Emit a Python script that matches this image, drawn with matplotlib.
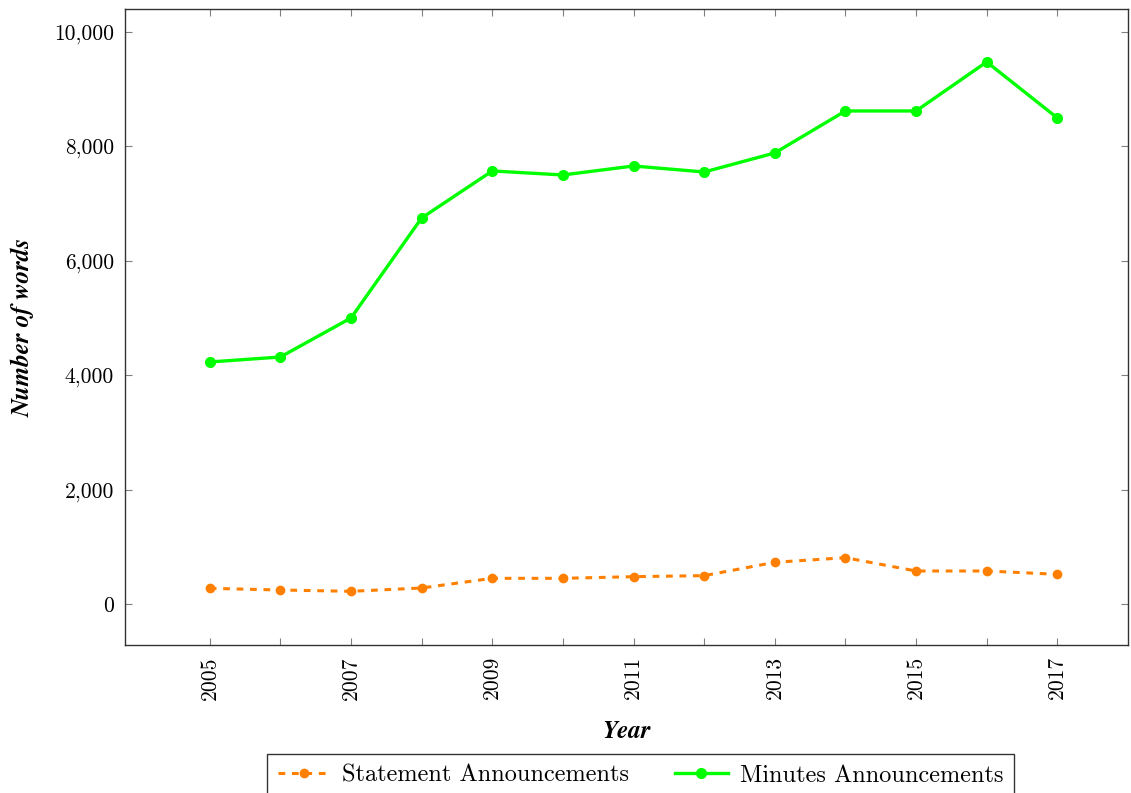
import matplotlib
matplotlib.use("Agg")
import matplotlib.pyplot as plt
from matplotlib.ticker import FuncFormatter

years = list(range(2005, 2018))
statement_words = [274, 245, 222, 280, 449, 449, 478, 496, 729, 810, 577, 577, 519]
minutes_words = [4231, 4318, 5000, 6748, 7570, 7500, 7657, 7552, 7885, 8619, 8619, 9476, 8497]
year_labels = [str(y) if y % 2 == 1 else "" for y in years]
y_ticks = [0, 2000, 4000, 6000, 8000, 10000]

plt.rcParams["font.family"] = ["cmr10", "DejaVu Serif"]
plt.rcParams["axes.unicode_minus"] = False
plt.rcParams["mathtext.fontset"] = "cm"

fig = plt.figure(figsize=(11.31, 7.93), dpi=100)
ax = fig.add_axes([0.1105, 0.1866, 0.8868, 0.8021])

ax.plot(years, statement_words, color="#ff8000", linestyle=(0, (2.2, 2.2)),
        linewidth=2.2, marker="o", markersize=6, label="Statement Announcements")
ax.plot(years, minutes_words, color="#00ff00", linestyle="-",
        linewidth=2.4, marker="o", markersize=7, label="Minutes Announcements")

ax.set_xlim(2003.8, 2018)
ax.set_ylim(-717, 10402)
ax.set_xticks(years)
ax.set_xticklabels(year_labels, rotation=90)
ax.set_yticks(y_ticks)
ax.yaxis.set_major_formatter(FuncFormatter(lambda v, p: f"{v:,.0f}"))

ax.tick_params(direction="in", top=True, right=True, length=5, width=0.8,
               color="#808080", labelsize=15.5, pad=8)
for s in ax.spines.values():
    s.set_color("#333333")
    s.set_linewidth(1.0)

ax.set_xlabel("Year", fontsize=18, family="STIXGeneral", fontweight="bold",
              fontstyle="italic", labelpad=14)
ax.set_ylabel("Number of words", fontsize=18, family="STIXGeneral",
              fontweight="bold", fontstyle="italic", labelpad=14)

leg = ax.legend(loc="upper center", bbox_to_anchor=(0.514, -0.171), ncol=2,
                fontsize=17.5, frameon=True, fancybox=False, edgecolor="black",
                handlelength=2.15, handletextpad=0.5, columnspacing=1.9,
                borderpad=0.45, borderaxespad=0)
leg.get_frame().set_linewidth(1.0)

fig.savefig("out.png", dpi=100)
